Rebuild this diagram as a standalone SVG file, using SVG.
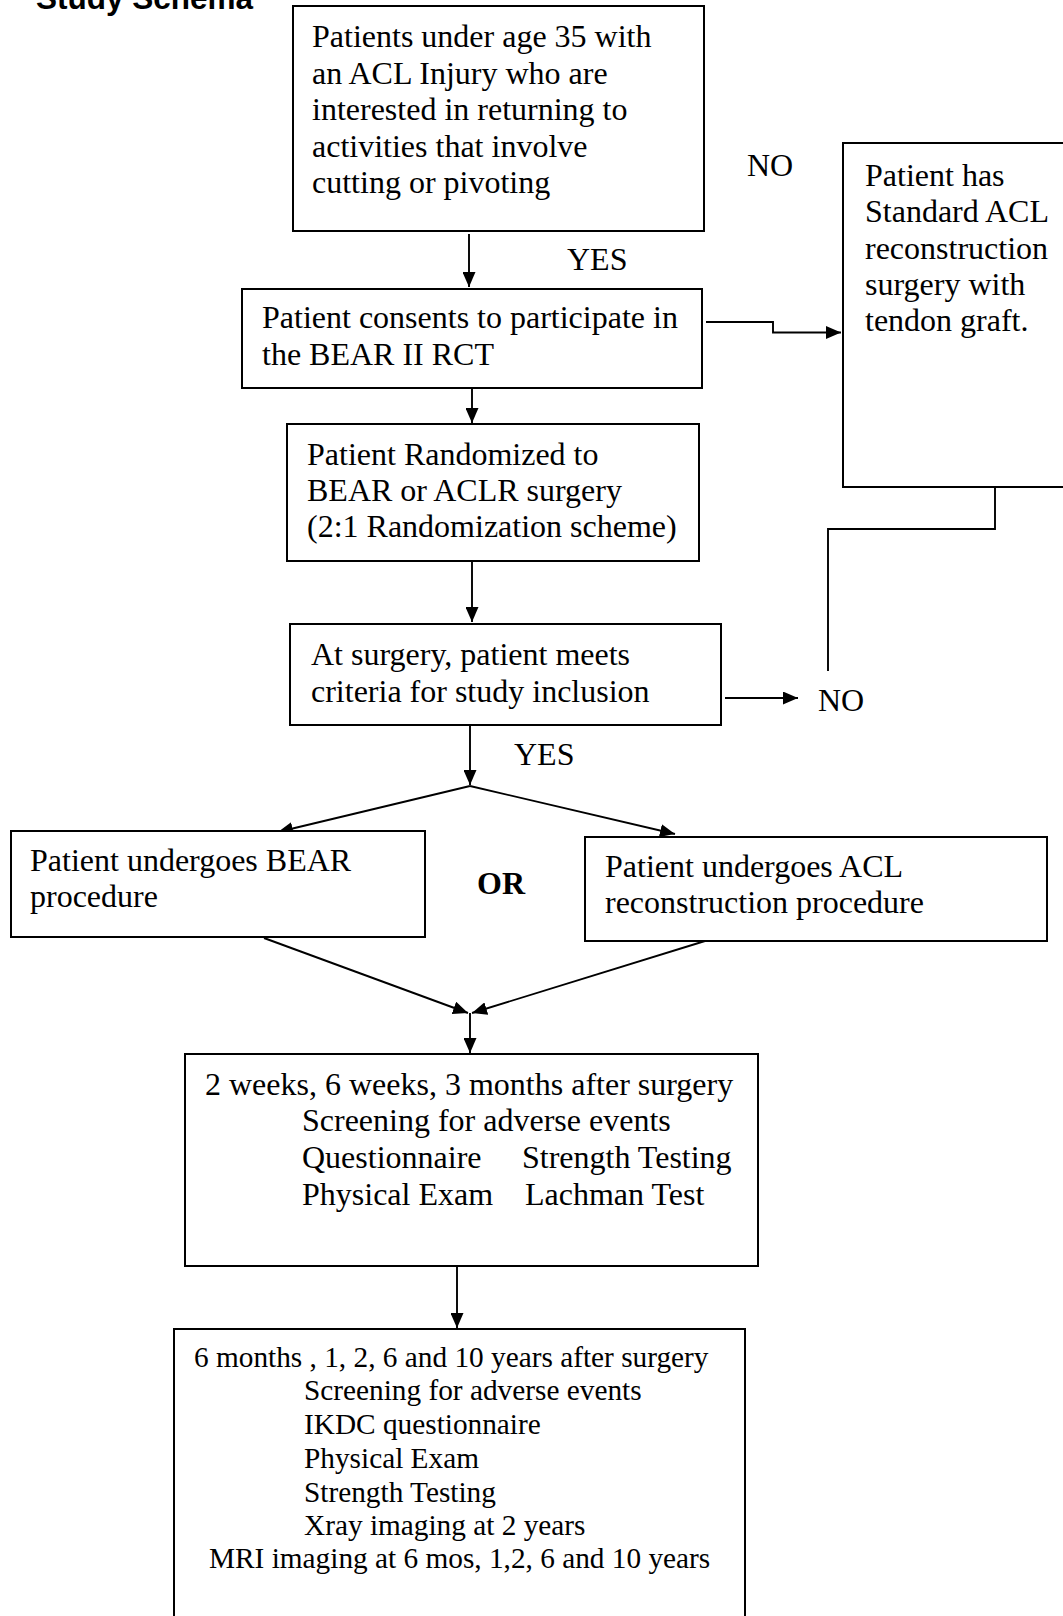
<svg xmlns="http://www.w3.org/2000/svg" width="1063" height="1616" viewBox="0 0 1063 1616">
<style>
.box{fill:#fff;stroke:#000;stroke-width:2}
.t{font-family:"Liberation Serif","Times New Roman",serif;font-size:32px;fill:#000}
.s{font-family:"Liberation Serif","Times New Roman",serif;font-size:29.3px;fill:#000}
.b{font-weight:bold}
.c{fill:none;stroke:#000;stroke-width:1.9}
</style>
<defs>
<marker id="ah" markerUnits="userSpaceOnUse" markerWidth="15" markerHeight="13" refX="15" refY="6.5" orient="auto">
<path d="M0,0 L15,6.5 L0,13 z" fill="#000"/>
</marker>
</defs>
<rect width="1063" height="1616" fill="#fff"/>
<text x="36" y="9" font-family="Liberation Sans, Arial, sans-serif" font-size="31.5" font-weight="bold">Study Schema</text>

<g id="connectors">
<path class="c" d="M469,234 V287" marker-end="url(#ah)"/>
<path class="c" d="M706,322 H773 V332.5 H841" marker-end="url(#ah)"/>
<path class="c" d="M472,388 V423" marker-end="url(#ah)"/>
<path class="c" d="M472,561 V622" marker-end="url(#ah)"/>
<path class="c" d="M995,487 V529 H828 V671"/>
<path class="c" d="M725,698 H798" marker-end="url(#ah)"/>
<path class="c" d="M470,722 V785" marker-end="url(#ah)"/>
<path class="c" d="M470,786 L278,832" marker-end="url(#ah)"/>
<path class="c" d="M470,786 L675,834" marker-end="url(#ah)"/>
<path class="c" d="M264,938 L468,1013" marker-end="url(#ah)"/>
<path class="c" d="M705,941 L472,1013" marker-end="url(#ah)"/>
<path class="c" d="M470,1013 V1053" marker-end="url(#ah)"/>
<path class="c" d="M457,1266 V1328" marker-end="url(#ah)"/>
<text class="t" x="567" y="270">YES</text>
<text class="t" x="747" y="176">NO</text>
<text class="t" x="818" y="711">NO</text>
<text class="t" x="514" y="765">YES</text>
<text class="t b" x="477" y="894">OR</text>
</g>

<g id="n1">
<rect class="box" x="293" y="6" width="411" height="225"/>
<text class="t" x="312" y="47">Patients under age 35 with</text>
<text class="t" x="312" y="83.5">an ACL Injury who are</text>
<text class="t" x="312" y="120">interested in returning to</text>
<text class="t" x="312" y="156.5">activities that involve</text>
<text class="t" x="312" y="193">cutting or pivoting</text>
</g>

<g id="n2">
<rect class="box" x="242" y="289" width="460" height="99"/>
<text class="t" x="262" y="328">Patient consents to participate in</text>
<text class="t" x="262" y="365">the BEAR II RCT</text>
</g>

<g id="n_std">
<path class="box" d="M1070,143 H843 V487 H1070"/>
<text class="t" x="865" y="186">Patient has</text>
<text class="t" x="865" y="222">Standard ACL</text>
<text class="t" x="865" y="259">reconstruction</text>
<text class="t" x="865" y="295">surgery with</text>
<text class="t" x="865" y="331">tendon graft.</text>
</g>

<g id="n3">
<rect class="box" x="287" y="424" width="412" height="137"/>
<text class="t" x="307" y="465">Patient Randomized to</text>
<text class="t" x="307" y="501">BEAR or ACLR surgery</text>
<text class="t" x="307" y="537">(2:1 Randomization scheme)</text>
</g>

<g id="n4">
<rect class="box" x="290" y="624" width="431" height="101"/>
<text class="t" x="311" y="665">At surgery, patient meets</text>
<text class="t" x="311" y="702">criteria for study inclusion</text>
</g>

<g id="n_bear">
<rect class="box" x="11" y="831" width="414" height="106"/>
<text class="t" x="30" y="871">Patient undergoes BEAR</text>
<text class="t" x="30" y="907">procedure</text>
</g>

<g id="n_aclr">
<rect class="box" x="585" y="837" width="462" height="104"/>
<text class="t" x="605" y="877">Patient undergoes ACL</text>
<text class="t" x="605" y="913">reconstruction procedure</text>
</g>

<g id="n5">
<rect class="box" x="185" y="1054" width="573" height="212"/>
<text class="t" x="205" y="1095">2 weeks, 6 weeks, 3 months after surgery</text>
<text class="t" x="302" y="1131">Screening for adverse events</text>
<text class="t" x="302" y="1168">Questionnaire</text>
<text class="t" x="522" y="1168">Strength Testing</text>
<text class="t" x="302" y="1205">Physical Exam</text>
<text class="t" x="525" y="1205">Lachman Test</text>
</g>

<g id="n6">
<path class="box" d="M174,1625 V1329 H745 V1625"/>
<text class="s" x="194" y="1367">6 months , 1, 2, 6 and 10 years after surgery</text>
<text class="s" x="304" y="1400">Screening for adverse events</text>
<text class="s" x="304" y="1434">IKDC questionnaire</text>
<text class="s" x="304" y="1468">Physical Exam</text>
<text class="s" x="304" y="1502">Strength Testing</text>
<text class="s" x="304" y="1535">Xray imaging at 2 years</text>
<text class="s" x="209" y="1568">MRI imaging at 6 mos, 1,2, 6 and 10 years</text>
</g>
</svg>
